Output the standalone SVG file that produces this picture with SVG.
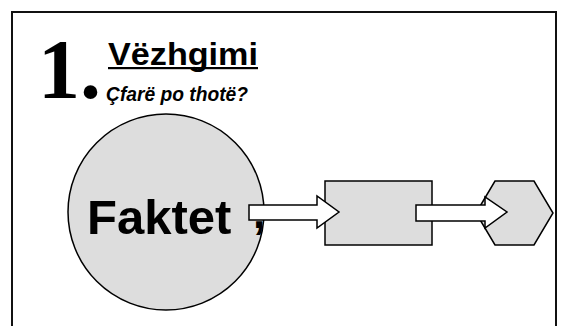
<svg xmlns="http://www.w3.org/2000/svg" width="568" height="326" viewBox="0 0 568 326">
<style>
.shape{fill:#dddddd;stroke:#000;stroke-width:1.5}
.arrow{fill:#fff;stroke:#000;stroke-width:1.5;stroke-linejoin:miter}
.sans{font-family:"Liberation Sans",Arial,sans-serif;font-weight:bold;fill:#000}
</style>
<rect x="0" y="0" width="568" height="326" fill="#fff"/>
<g id="frame"><rect x="12" y="12" width="544" height="330" fill="none" stroke="#111" stroke-width="2"/></g>
<g id="title">
<text x="38" y="98" font-family="'Liberation Serif','Times New Roman',serif" font-weight="bold" font-size="84">1.</text>
<text class="sans" x="108" y="65" font-size="31" textLength="150" lengthAdjust="spacingAndGlyphs">Vëzhgimi</text>
<rect x="108" y="67" width="150" height="2.2" fill="#000"/>
<text class="sans" x="106" y="101" font-size="20" font-style="italic" textLength="142" lengthAdjust="spacingAndGlyphs">Çfarë po thotë?</text>
</g>
<g id="node-faktet">
<circle class="shape" cx="166" cy="212" r="98"/>
<text class="sans" x="87" y="234" font-size="49">Faktet</text>
<text class="sans" x="253" y="228" font-size="44">,</text>
</g>
<g id="node-rect"><rect class="shape" x="325" y="181" width="107" height="64"/></g>
<g id="node-hex"><polygon class="shape" points="476,213 495,181 534,181 553,213 534,245 495,245"/></g>
<g id="connectors">
<polygon class="arrow" points="249,205 317,205 317,196 339,212 317,228 317,220 249,220"/>
<polygon class="arrow" points="416,205 485,205 485,197 507,212 485,228 485,221 416,221"/>
</g>
</svg>
